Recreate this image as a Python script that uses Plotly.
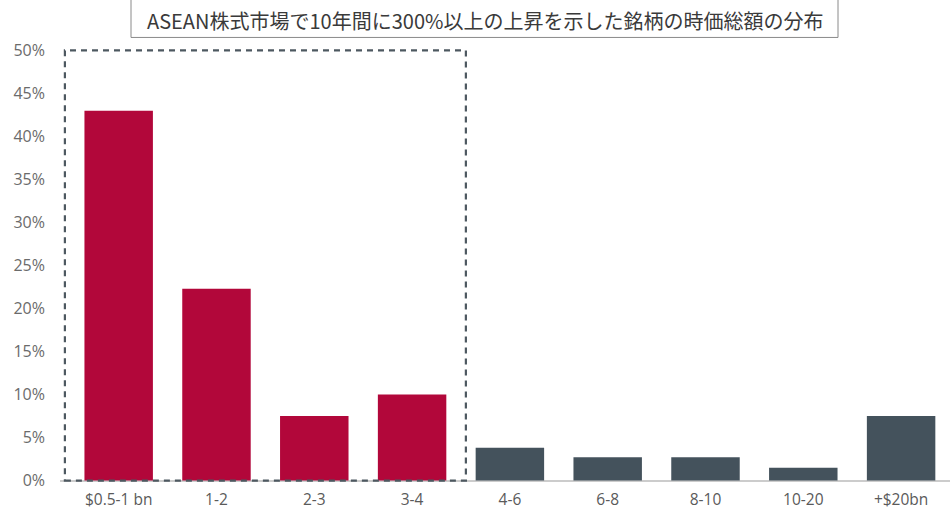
import plotly.graph_objects as go

categories = ["$0.5-1 bn", "1-2", "2-3", "3-4", "4-6", "6-8", "8-10", "10-20", "+$20bn"]
values = [43.0, 22.3, 7.5, 10.0, 3.8, 2.7, 2.7, 1.5, 7.5]
highlight = [True, True, True, True, False, False, False, False, False]
title_text = "ASEAN株式市場で10年間に300%以上の上昇を示した銘柄の時価総額の分布"
y_ticks = [0, 5, 10, 15, 20, 25, 30, 35, 40, 45, 50]

RED = "#B2073A"
GREY = "#44525C"
colors = [RED if h else GREY for h in highlight]

fig = go.Figure()
fig.add_trace(go.Bar(
    x=list(range(len(categories))),
    y=values,
    marker=dict(color=colors, line=dict(width=0)),
    width=0.7,
    hoverinfo="skip",
))

fig.update_layout(
    width=950, height=510,
    margin=dict(l=60, r=0, t=46.55, b=25.55),
    paper_bgcolor="white", plot_bgcolor="white",
    showlegend=False,
    font=dict(family="Open Sans", color="#666666", size=15),
    xaxis=dict(
        range=[-0.6, 8.5],
        tickmode="array",
        tickvals=list(range(len(categories))),
        ticktext=categories,
        showgrid=False, zeroline=False, showline=False,
        ticks="",
        ticklabelstandoff=4,
        tickfont=dict(size=15.5, color="#5a5a5a"),
        fixedrange=True,
    ),
    yaxis=dict(
        range=[-0.4, 50.4],
        tickmode="array",
        tickvals=y_ticks,
        ticktext=[f"{v}%" for v in y_ticks],
        showgrid=False,
        zeroline=True, zerolinecolor="#cccccc", zerolinewidth=1.5,
        showline=False,
        ticks="",
        ticklabelstandoff=14,
        tickfont=dict(size=16, color="#6b6b6b"),
        fixedrange=True,
    ),
)

# dashed box around highlighted group
fig.add_shape(type="rect", xref="x", yref="y",
              x0=-0.55, x1=3.55, y0=0, y1=50,
              line=dict(color="#4d5860", width=2.2, dash="6px,5px"),
              fillcolor="rgba(0,0,0,0)", layer="above")

# title box
fig.add_shape(type="rect", xref="paper", yref="paper",
              x0=(131 - 60) / 890, x1=(838 - 60) / 890,
              y0=(483.6 - 37) / 437.05, y1=(483.6 + 2) / 437.05,
              line=dict(color="#8a8a8a", width=1),
              fillcolor="white", layer="above")
fig.add_annotation(
    text=title_text, xref="paper", yref="paper",
    x=(485 - 60) / 890, y=(483.6 - 20) / 437.05,
    xanchor="center", yanchor="middle", showarrow=False,
    font=dict(family="Noto Sans CJK JP", size=20, color="#3a3a3a"),
)

fig.write_html("out.html")
